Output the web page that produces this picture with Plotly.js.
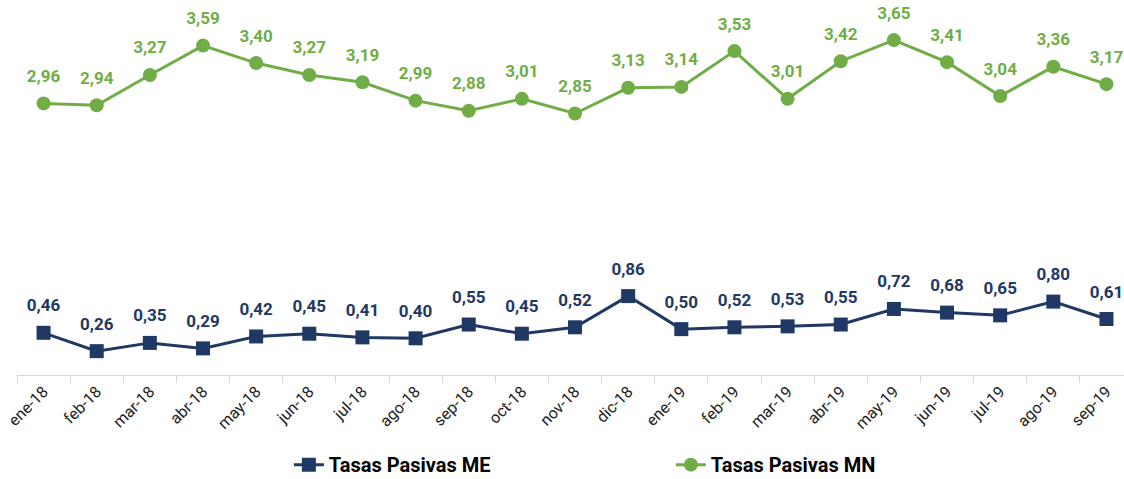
<!DOCTYPE html>
<html>
<head>
<meta charset="utf-8">
<script src="https://cdn.plot.ly/plotly-3.0.1.min.js"></script>
<style>html,body{margin:0;padding:0;background:#fff;}#chart{width:1124px;height:479px;}</style>
</head>
<body>
<div id="chart"></div>
<script>
const months = ["ene-18","feb-18","mar-18","abr-18","may-18","jun-18","jul-18","ago-18","sep-18","oct-18","nov-18","dic-18","ene-19","feb-19","mar-19","abr-19","may-19","jun-19","jul-19","ago-19","sep-19"];
const tasasME = [0.46,0.26,0.35,0.29,0.42,0.45,0.41,0.40,0.55,0.45,0.52,0.86,0.50,0.52,0.53,0.55,0.72,0.68,0.65,0.80,0.61];
const tasasMN = [2.96,2.94,3.27,3.59,3.40,3.27,3.19,2.99,2.88,3.01,2.85,3.13,3.14,3.53,3.01,3.42,3.65,3.41,3.04,3.36,3.17];

const FONT = "Roboto, Arial, sans-serif";
const navy = "#1F3864";
const green = "#70AD47";

function seriesTraces(y, name, color, symbol) {
  return [
    {
      x: months, y: y, name: name, type: "scatter", mode: "lines+markers",
      line: {color: color, width: 3},
      marker: {symbol: symbol, size: 14, color: color},
      hoverinfo: "skip"
    },
    {
      x: months, y: y, name: name + " labels", type: "scatter", mode: "markers+text",
      marker: {size: 26, opacity: 0, color: color},
      texttemplate: "%{y:.2f}", textposition: "top center",
      textfont: {family: FONT, size: 17, color: color, weight: "bold"},
      cliponaxis: false, showlegend: false, hoverinfo: "skip"
    }
  ];
}

const traces = [
  ...seriesTraces(tasasME, "Tasas Pasivas ME", navy, "square"),
  ...seriesTraces(tasasMN, "Tasas Pasivas MN", green, "circle")
];

const layout = {
  width: 1124, height: 479,
  margin: {l: 17, r: 0, t: 8, b: 104},
  paper_bgcolor: "#fff", plot_bgcolor: "#fff",
  separators: ",.",
  showlegend: true,
  legend: {
    orientation: "h", xref: "container", yref: "container",
    x: 0.257, xanchor: "left", y: 0.03, yanchor: "middle",
    font: {family: FONT, size: 20, color: "#000", weight: "bold"},
    entrywidth: 337, entrywidthmode: "pixels", itemwidth: 30
  },
  xaxis: {
    type: "category", range: [-0.5, 20.33],
    showline: true, linecolor: "#d9d9d9", linewidth: 1,
    ticks: "outside", tickson: "boundaries", ticklen: 7, tickcolor: "#d9d9d9",
    tickangle: -45, showgrid: false, zeroline: false,
    tickfont: {family: FONT, size: 16, color: "#222"}
  },
  yaxis: {
    range: [0, 4.0], visible: false, showgrid: false, zeroline: false
  }
};

Plotly.newPlot("chart", traces, layout, {displayModeBar: false, staticPlot: true});
</script>
</body>
</html>
